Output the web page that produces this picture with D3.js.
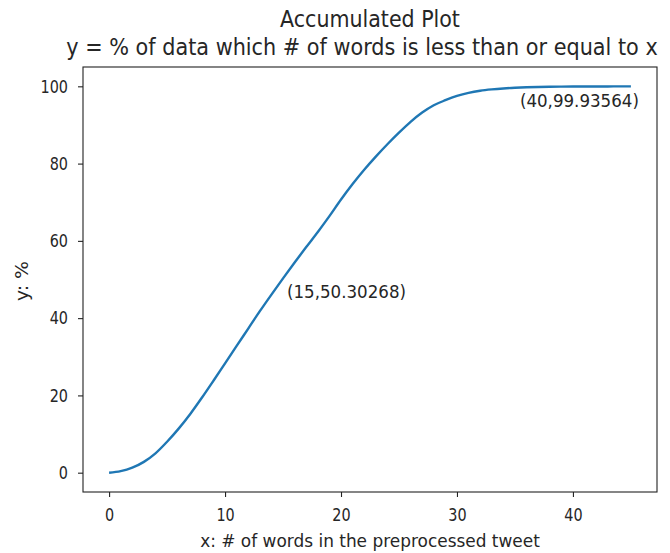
<!DOCTYPE html>
<html><head><meta charset="utf-8">
<script src="https://cdn.jsdelivr.net/npm/d3@7"></script>
<style>body{margin:0;background:#fff}text{font-family:"DejaVu Sans",sans-serif;fill:#262626}</style>
</head><body><svg id="c" width="670" height="553"></svg>
<script>
const xs = [0,1,2,3,4,5,6,7,8,9,10,11,12,13,14,15,16,17,18,19,20,21,22,23,24,25,26,27,28,29,30,31,32,33,34,35,36,37,38,39,40,41,42,43,44,45];
const ys = [0,0.4,1.3,2.8,5.0,8.0,11.4,15.2,19.4,23.8,28.3,32.8,37.3,41.8,46.1,50.30268,54.4,58.4,62.3,66.4,70.7,74.7,78.4,81.8,85.0,88.0,90.8,93.2,95.1,96.4,97.5,98.3,98.85,99.2,99.45,99.62,99.74,99.82,99.88,99.91,99.93564,99.95,99.96,99.97,99.98,99.99];
const xTicks = [0,10,20,30,40];
const yTicks = [0,20,40,60,80,100];
const notes = [{x:15,y:50.30268,label:"(15,50.30268)"},{x:40,y:99.93564,label:"(40,99.93564)"}];
const titleLines = ["Accumulated Plot","y = % of data which # of words is less than or equal to x"];
const xLabel = "x: # of words in the preprocessed tweet";
const yLabel = "y: %";

const svg = d3.select("#c");
const L=83,R=657,T=67,B=492;
const x = d3.scaleLinear().domain([-2.25,47.25]).range([L,R]);
const y = d3.scaleLinear().domain([-5,105]).range([B,T]);

function squeeze(sel, k){ sel.each(function(){ const w=this.getComputedTextLength(); d3.select(this).attr("textLength",w*k).attr("lengthAdjust","spacingAndGlyphs"); }); }
function fit(sel, target){ sel.each(function(){ d3.select(this).attr("textLength",target).attr("lengthAdjust","spacingAndGlyphs"); }); }
// horizontal squeeze via transform so the bounding box reflects the real width
function scaledText(cx, cy, size, str, target){
  const g = svg.append("g").attr("transform",`translate(${cx},${cy})`);
  const t = g.append("text").attr("text-anchor","middle").style("font-size",size+"px").text(str);
  const w = t.node().getComputedTextLength();
  t.attr("transform",`scale(${target/w},1)`);
  return t;
}

const data = xs.map((v,i)=>[v,ys[i]]);
svg.append("path").datum(data)
  .attr("fill","none").attr("stroke","#1f77b4").attr("stroke-width",2.4)
  .attr("d", d3.line().x(d=>x(d[0])).y(d=>y(d[1])).curve(d3.curveMonotoneX));

const xa = svg.append("g").attr("transform",`translate(0,${B})`)
  .call(d3.axisBottom(x).tickValues(xTicks).tickSize(5).tickPadding(11).tickSizeOuter(0));
const ya = svg.append("g").attr("transform",`translate(${L},0)`)
  .call(d3.axisLeft(y).tickValues(yTicks).tickSize(5).tickPadding(10).tickSizeOuter(0));
[xa,ya].forEach(g=>{g.select(".domain").remove();g.selectAll("line").attr("stroke","#222").attr("stroke-width",1.1);
  g.selectAll("text").style("font-size","18px").attr("fill","#262626").style("font-family","DejaVu Sans");
  squeeze(g.selectAll("text"),0.8);});

svg.append("rect").attr("x",L).attr("y",T).attr("width",R-L).attr("height",B-T)
  .attr("fill","none").attr("stroke","#222").attr("stroke-width",1.1);

scaledText(370, 27, 23, titleLines[0], 180);
scaledText(362, 55, 23, titleLines[1], 592);
scaledText(370, 547, 18, xLabel, 340);
fit(svg.append("text").attr("transform",`translate(28,281) rotate(-90)`).attr("text-anchor","middle").style("font-size","18px").text(yLabel),40);

const offs = [[4,20],[-53,20]];
notes.forEach((n,i)=>{
  fit(svg.append("text").attr("x",x(n.x)+offs[i][0]).attr("y",y(n.y)+offs[i][1]).style("font-size","18px").text(n.label),119);
});
</script></body></html>
